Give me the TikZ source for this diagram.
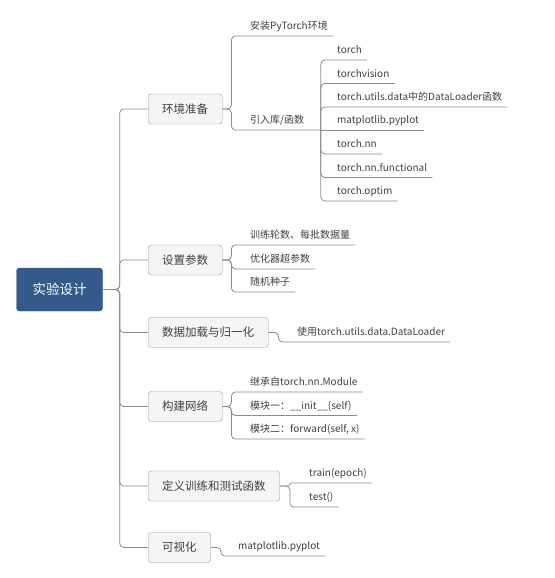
\documentclass[tikz,border=0pt]{standalone}
\usepackage{fontspec}
\setmainfont{Noto Sans CJK SC}
\definecolor{rootblue}{HTML}{335A8A}
\definecolor{inkgray}{HTML}{404040}
\begin{document}
\begin{tikzpicture}[
    x=1pt, y=-1pt,
    root/.style={draw=rootblue, fill=rootblue, rounded corners=3pt, text=white, inner sep=0pt,
      minimum width=86pt, minimum height=43pt, font=\fontsize{13.5}{16}\selectfont},
    topic/.style={anchor=west, draw=black!40, fill=black!4, rounded corners=3pt, text=inkgray,
      inner xsep=14pt, minimum height=30pt, font=\fontsize{11.5}{14}\selectfont},
    leaf/.style={anchor=south west, inner xsep=5pt, inner ysep=4pt, text height=8pt, text depth=2pt,
      text=inkgray, font=\fontsize{10}{12}\selectfont},
    link/.style={draw=black!45, line width=0.8pt, rounded corners=4pt}
  ]
  \useasboundingbox (0,0) rectangle (554,578);

  \node (r) at (59.5, 289.5) [root] {实验设计};

  \node (t1) at (148, 109)   [topic] {环境准备};
  \node (t2) at (148, 260)   [topic] {设置参数};
  \node (t3) at (148, 332.5) [topic] {数据加载与归一化};
  \node (t4) at (148, 406.5) [topic] {构建网络};
  \node (t5) at (148, 486)   [topic] {定义训练和测试函数};
  \node (t6) at (148, 547.5) [topic] {可视化};

  \node (a1) at (245, 36)  [leaf] {安装PyTorch环境};
  \node (a2) at (245, 130) [leaf] {引入库/函数};

  \node (c1) at (332, 60)    [leaf] {torch};
  \node (c2) at (332, 83.5)  [leaf] {torchvision};
  \node (c3) at (332, 107)   [leaf] {torch.utils.data中的DataLoader函数};
  \node (c4) at (332, 130)   [leaf] {matplotlib.pyplot};
  \node (c5) at (332, 154)   [leaf] {torch.nn};
  \node (c6) at (332, 177.5) [leaf] {torch.nn.functional};
  \node (c7) at (332, 201)   [leaf] {torch.optim};

  \node (b1) at (245, 245) [leaf] {训练轮数、每批数据量};
  \node (b2) at (245, 269) [leaf] {优化器超参数};
  \node (b3) at (245, 292) [leaf] {随机种子};

  \node (d1) at (292, 342) [leaf] {使用torch.utils.data.DataLoader};

  \node (e1) at (245, 392)   [leaf] {继承自torch.nn.Module};
  \node (e2) at (245, 415.5) [leaf] {模块一：\_\_init\_\_(self)};
  \node (e3) at (245, 439)   [leaf] {模块二：forward(self, x)};

  \node (f1) at (304, 483) [leaf] {train(epoch)};
  \node (f2) at (304, 507) [leaf] {test()};

  \node (g1) at (233, 556) [leaf] {matplotlib.pyplot};

  \foreach \t in {t1, t2, t3, t4, t5, t6}
    \draw [link] (r.east) -- ++(17,0) |- (\t.west);

  \draw [link] (t1.east) -- ++(9,0) |- (a1.south east);
  \draw [link] (t1.east) -- ++(9,0) |- (a2.south east) -- ++(11.5,0) coordinate (a2j);
  \foreach \c in {c1, c2, c3, c5, c6, c7}
    \draw [link] (a2j) |- (\c.south east);
  \draw [link] (a2j) -- (c4.south east);

  \foreach \b in {b1, b2, b3}
    \draw [link] (t2.east) -- ++(9,0) |- (\b.south east);

  \draw [link] (t3.east) -- ++(10,0) |- (d1.south east);

  \foreach \e in {e1, e2, e3}
    \draw [link] (t4.east) -- ++(9,0) |- (\e.south east);

  \draw [link, rounded corners=1.5pt] (t5.east) -- ++(10,0) |- (f1.south east);
  \draw [link] (t5.east) -- ++(10,0) |- (f2.south east);

  \draw [link] (t6.east) -- ++(10,0) |- (g1.south east);
\end{tikzpicture}
\end{document}
